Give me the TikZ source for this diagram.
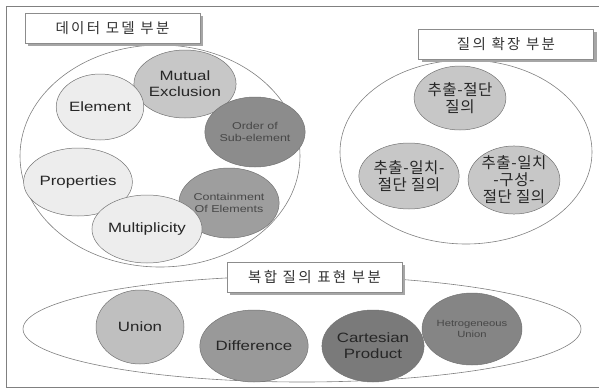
\documentclass[tikz,border=0pt]{standalone}
\usepackage{fontspec}
\setmainfont{Liberation Sans}[FakeStretch=1.25]
\newfontfamily\kr{Noto Sans CJK KR}[LetterSpace=4]
\newfontfamily\krtitle{Noto Sans CJK KR}[LetterSpace=16]
\usetikzlibrary{shapes.geometric,shadows}

\begin{document}
\begin{tikzpicture}[x=1pt,y=-1pt,
  group/.style={ellipse,draw=black!50,line width=0.6pt,inner sep=0pt},
  titlebox/.style={draw=black!45,fill=white,line width=0.6pt,minimum width=175pt,minimum height=30pt,
    font=\krtitle\fontsize{14.5}{16}\selectfont,text=black!80,
    drop shadow={shadow xshift=3pt,shadow yshift=-3pt,fill=black!35,opacity=1}},
  bub/.style={ellipse,draw=black!55,line width=0.5pt,inner sep=0pt,align=center,
    font=\fontsize{13.5}{16}\selectfont,text=black!85},
  smalltext/.style={font=\fontsize{10}{12}\selectfont,text=black!72},
  krtext/.style={font=\kr\fontsize{15.5}{17}\selectfont},
  light/.style={fill=black!7},
  mid/.style={fill=black!22},
  dark/.style={fill=black!40}]
\useasboundingbox (0,0) rectangle (599,391);
\draw[black!50,line width=0.6pt] (6,6) rectangle (605,387);

\node[group,minimum width=280pt,minimum height=222pt] (dataG) at (160,156) {};
\node[group,minimum width=252pt,minimum height=184pt] (queryG) at (466,152) {};
\node[group,minimum width=558pt,minimum height=106pt] (complexG) at (302,329) {};

\node[titlebox] (dataT) at (112.5,28) {데이터 모델 부분};
\node[titlebox] (queryT) at (506,44) {질의 확장 부분};
\node[titlebox] (complexT) at (314.5,277) {복합 질의 표현 부분};

\node[bub,mid,minimum width=92pt,minimum height=68pt] (mutex) at (185,84) {Mutual\\Exclusion};
\node[bub,light,minimum width=86pt,minimum height=66pt] (elem) at (100,107) {Element};
\node[bub,fill=black!45,smalltext,minimum width=90pt,minimum height=70pt] (order) at (255,132) {Order of\\Sub-element};
\node[bub,light,minimum width=90pt,minimum height=68pt] (prop) at (78,182) {Properties};
\node[bub,fill=black!38,smalltext,minimum width=88pt,minimum height=70pt] (contain) at (229,203) {Containment\\Of Elements};
\node[bub,light,minimum width=88pt,minimum height=68pt] (multi) at (147,229) {Multiplicity};

\node[bub,mid,krtext,minimum width=64pt,minimum height=64pt] (cut) at (460,98) {추출-절단\\질의};
\node[bub,mid,krtext,minimum width=88pt,minimum height=66pt] (matchcut) at (409,176) {추출-일치-\\절단 질의};
\node[bub,mid,krtext,minimum width=82pt,minimum height=66pt] (matchbuild) at (514,180) {추출-일치\\-구성-\\절단 질의};

\node[bub,fill=black!25,minimum width=88pt,minimum height=74pt] (union) at (140,327) {Union};
\node[bub,dark,minimum width=88pt,minimum height=72pt] (diff) at (254,346) {Difference};
\node[bub,fill=black!52,minimum width=88pt,minimum height=72pt] (cart) at (373,346) {Cartesian\\Product};
\node[bub,fill=black!48,font=\fontsize{9}{10.5}\selectfont,text=black!72,minimum width=80pt,minimum height=72pt] (hetero) at (472,329) {Hetrogeneous\\Union};
\end{tikzpicture}
\end{document}
